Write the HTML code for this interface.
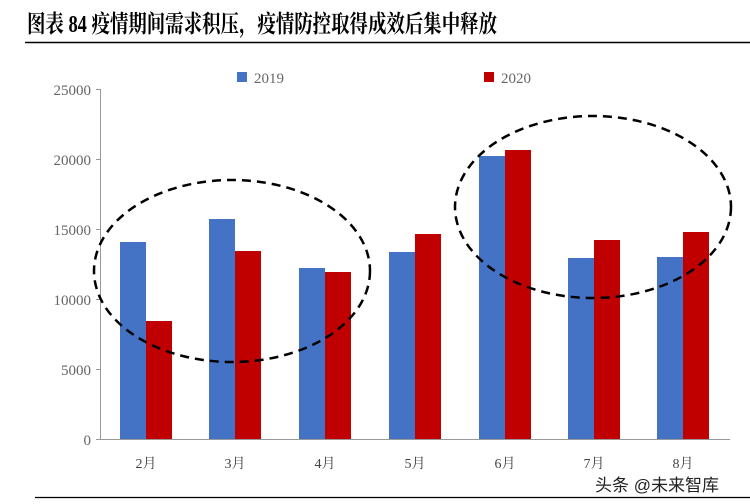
<!DOCTYPE html>
<html><head><meta charset="utf-8"><style>
body{margin:0;width:750px;height:504px;background:#fff;overflow:hidden}
</style></head><body>
<svg width="750" height="504" xmlns="http://www.w3.org/2000/svg" style="position:absolute;left:0;top:0">
<text x="27" y="32" font-family="'Liberation Serif','Noto Serif CJK SC',serif" font-weight="bold" font-size="24" fill="#000" textLength="470" lengthAdjust="spacingAndGlyphs">图表 84 疫情期间需求积压，疫情防控取得成效后集中释放</text>
<line x1="25" y1="42.5" x2="750" y2="42.5" stroke="#000" stroke-width="1.5"/>
<line x1="35" y1="497.5" x2="750" y2="497.5" stroke="#000" stroke-width="1.2"/>
<g font-family="'Liberation Serif','Noto Serif CJK SC',serif" font-size="15" fill="#666">
<rect x="237" y="72" width="10" height="10" fill="#4472C4"/><text x="254" y="83">2019</text>
<rect x="484" y="72" width="10" height="10" fill="#C00000"/><text x="501" y="83">2020</text>
<g text-anchor="end">
<text x="91" y="95">25000</text><text x="91" y="165">20000</text><text x="91" y="235">15000</text>
<text x="91" y="305">10000</text><text x="91" y="375">5000</text><text x="91" y="445">0</text>
</g>
</g>
<g stroke="#999" stroke-width="1">
<line x1="100.5" y1="89" x2="100.5" y2="439"/>
<line x1="96" y1="89.5" x2="100" y2="89.5"/><line x1="96" y1="159.5" x2="100" y2="159.5"/>
<line x1="96" y1="229.5" x2="100" y2="229.5"/><line x1="96" y1="299.5" x2="100" y2="299.5"/>
<line x1="96" y1="369.5" x2="100" y2="369.5"/><line x1="96" y1="439.5" x2="730" y2="439.5"/>
</g>
<g fill="#4472C4">
<rect x="120" y="242" width="26" height="197"/><rect x="209" y="219" width="26" height="220"/>
<rect x="299" y="268" width="26" height="171"/><rect x="389" y="252" width="26" height="187"/>
<rect x="479" y="156" width="26" height="283"/><rect x="568" y="258" width="26" height="181"/>
<rect x="657" y="257" width="26" height="182"/>
</g>
<g fill="#C00000">
<rect x="146" y="321" width="26" height="118"/><rect x="235" y="251" width="26" height="188"/>
<rect x="325" y="272" width="26" height="167"/><rect x="415" y="234" width="26" height="205"/>
<rect x="505" y="150" width="26" height="289"/><rect x="594" y="240" width="26" height="199"/>
<rect x="683" y="232" width="26" height="207"/>
</g>
<g font-family="'Liberation Serif','Noto Serif CJK SC',serif" font-size="14" fill="#444" text-anchor="middle">
<text x="146" y="468">2月</text><text x="235" y="468">3月</text><text x="325" y="468">4月</text>
<text x="415" y="468">5月</text><text x="505" y="468">6月</text><text x="594" y="468">7月</text><text x="683" y="468">8月</text>
</g>
<g fill="none" stroke="#000" stroke-width="2.5" stroke-dasharray="9,6">
<ellipse cx="232" cy="271" rx="138" ry="91"/>
<ellipse cx="593" cy="207" rx="138" ry="91"/>
</g>
<text x="595" y="491" font-family="'Liberation Sans','Noto Sans CJK SC',sans-serif" font-size="17" fill="#222">头条 @未来智库</text>
</svg>
</body></html>
